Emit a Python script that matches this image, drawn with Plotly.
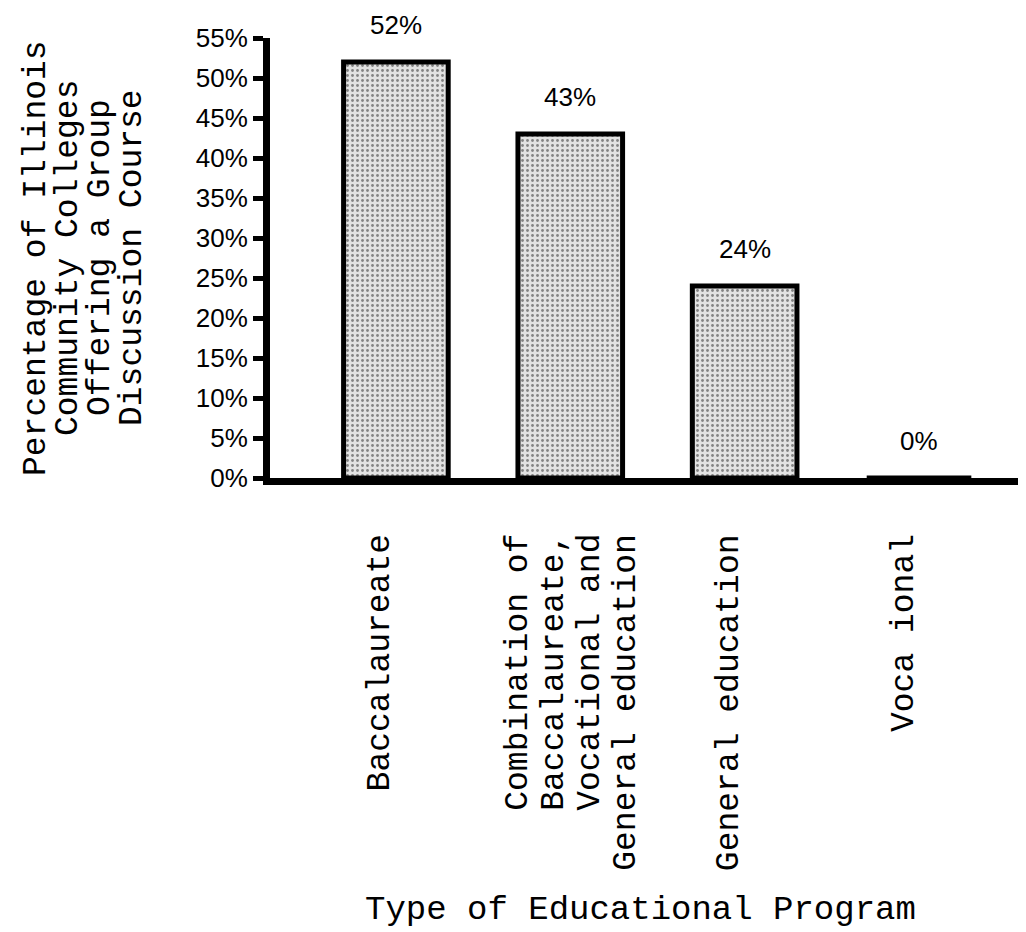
import plotly.graph_objects as go

# ---- data ----
categories = [
    "Baccalaureate",
    "Combination of Baccalaureate, Vocational and General education",
    "General education",
    "Voca ional",
]
category_label_lines = [
    ["Baccalaureate"],
    ["Combination of", "Baccalaureate,", "Vocational and", "General education"],
    ["General education"],
    ["Voca ional"],
]
percentages = [52, 43, 24, 0]
tick_values = [0, 5, 10, 15, 20, 25, 30, 35, 40, 45, 50, 55]
tick_labels = [f"{t}%" for t in tick_values]
y_title_lines = [
    "Percentage of Illinois",
    "Community Colleges",
    "Offering a Group",
    "Discussion Course",
]
x_title = "Type of Educational Program"

TYPE_FONT = "Liberation Mono, Courier New, monospace"
HAND_FONT = "Liberation Sans, Arial, sans-serif"

fig = go.Figure()
fig.add_trace(
    go.Bar(
        x=categories,
        y=percentages,
        width=0.6,
        marker=dict(
            color="#e2e2e2",
            line=dict(color="black", width=5),
            pattern=dict(shape=".", fgcolor="#222222", size=5, solidity=0.25,
                         fillmode="overlay"),
        ),
        showlegend=False,
        hoverinfo="skip",
    )
)

annotations = []
# value labels above bars
for cat, val in zip(categories, percentages):
    annotations.append(dict(
        x=cat, y=val, xref="x", yref="y", text=f"{val}%", showarrow=False,
        yanchor="bottom", xanchor="center", yshift=20,
        font=dict(family=HAND_FONT, size=26, color="black"),
    ))

# category labels (rotated, typewriter style)
for cat, lines in zip(categories, category_label_lines):
    n = len(lines)
    base = -15 if n == 1 else 2
    for j, line in enumerate(lines):
        annotations.append(dict(
            x=cat, y=0, xref="x", yref="paper", text=line, showarrow=False,
            textangle=-90, xanchor="center", yanchor="top",
            xshift=base + (j - (n - 1) / 2) * 36, yshift=-54,
            font=dict(family=TYPE_FONT, size=33, color="black"),
        ))

# y-axis title lines
for j, line in enumerate(y_title_lines):
    annotations.append(dict(
        x=0, y=0.5, xref="paper", yref="paper", text=line, showarrow=False,
        textangle=-90, xanchor="center", yanchor="middle",
        xshift=(28 + 32 * j) - 262,
        font=dict(family=TYPE_FONT, size=33, color="black"),
    ))

# x-axis title
annotations.append(dict(
    x=0.489, y=-0.982, xref="paper", yref="paper", text=x_title, showarrow=False,
    xanchor="center", yanchor="middle",
    font=dict(family=TYPE_FONT, size=34, color="black"),
))

fig.update_layout(
    width=1026,
    height=932,
    autosize=False,
    margin=dict(l=262, r=6, t=30, b=462),
    paper_bgcolor="white",
    plot_bgcolor="white",
    bargap=0.4,
    annotations=annotations,
    xaxis=dict(
        range=[-0.722, 3.625],
        showticklabels=False,
        ticks="",
        showgrid=False,
        zeroline=False,
        showline=True,
        linewidth=7,
        linecolor="black",
        fixedrange=True,
    ),
    yaxis=dict(
        range=[0, 55],
        tickvals=tick_values,
        ticktext=tick_labels,
        ticks="outside",
        ticklen=10,
        tickwidth=5,
        tickcolor="black",
        tickfont=dict(family=HAND_FONT, size=26, color="black"),
        showgrid=False,
        zeroline=False,
        showline=True,
        linewidth=7,
        linecolor="black",
        fixedrange=True,
    ),
)

fig.write_html("out.html")
